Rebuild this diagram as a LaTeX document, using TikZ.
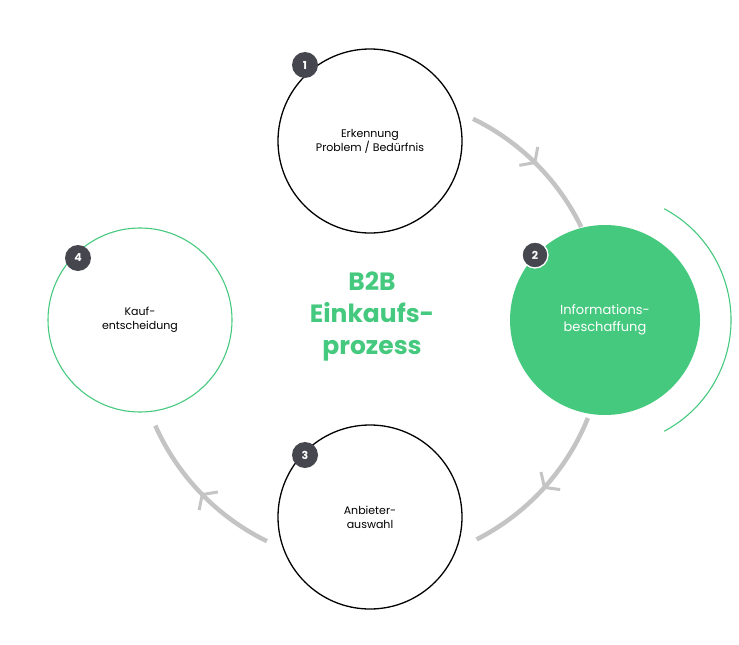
\documentclass[tikz,border=0pt]{standalone}
\usepackage{fontspec}
\setmainfont{Poppins}
\usetikzlibrary{arrows.meta,decorations.markings,calc}
\definecolor{einkgreen}{HTML}{45C97E}
\definecolor{badgegray}{HTML}{45464E}
\definecolor{arcgray}{HTML}{C4C4C4}
\tikzset{
  phase/.style={circle, minimum size=184pt, draw=black, line width=1.3pt, align=center, font=\fontsize{11}{14}\selectfont},
  badge/.style={circle, fill=badgegray, minimum size=26pt, inner sep=0pt, text=white, font=\bfseries\fontsize{11}{11}\selectfont},
  flow/.style={arcgray, line width=4.5pt, postaction={decorate}, decoration={markings,
      mark=at position 0.5 with {\arrow[arcgray, line width=3pt]{Straight Barb[length=9pt, width=26pt]}}}}
}
\begin{document}
\begin{tikzpicture}[x=1pt, y=-1pt]
    \useasboundingbox (0,0) rectangle (739,645);
    \coordinate (mid) at (370,330);
    % connecting arcs
    \draw [flow] ($(mid)+(-64:235)$) arc [start angle=-64, end angle=-26, radius=235];
    \draw [flow] ($(mid)+(22:235)$) arc [start angle=22, end angle=63, radius=235];
    \draw [flow] ($(mid)+(116:235)$) arc [start angle=116, end angle=156, radius=235];
    % phases
    \node [phase] (s1) at (370,141) {Erkennung\\Problem / Bedürfnis};
    \node [phase, fill=einkgreen, draw=none, text=white, minimum size=190pt, font=\fontsize{13}{17}\selectfont] (s2) at (605,320) {Informations-\\beschaffung};
    \node [phase] (s3) at (370,517) {Anbieter-\\auswahl};
    \node [phase, draw=einkgreen, line width=1.1pt] (s4) at (140,320) {Kauf-\\entscheidung};
    \draw [einkgreen, line width=1.1pt] ($(s2.center)+(-62:126)$) arc [start angle=-62, end angle=62, radius=126];
    % badges
    \node [badge] (b1) at (305,65) {1};
    \node [badge, draw=white, line width=1.3pt] (b2) at (535,255) {2};
    \node [badge] (b3) at (305,455) {3};
    \node [badge] (b4) at (78,258) {4};
    % title
    \node [einkgreen, align=center, font=\bfseries\fontsize{25}{32}\selectfont] (title) at (372,316) {B2B\\Einkaufs-\\prozess};
\end{tikzpicture}
\end{document}
